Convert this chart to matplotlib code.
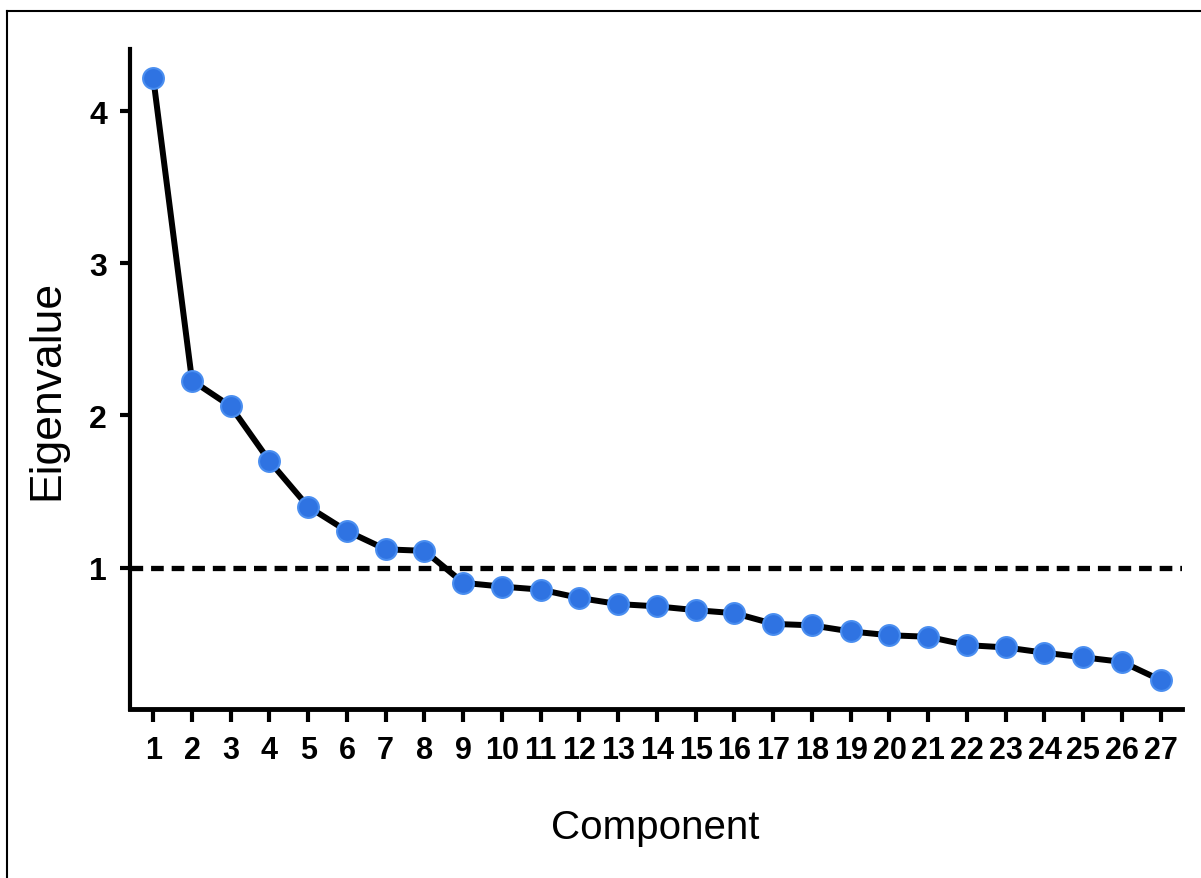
import matplotlib
matplotlib.use('Agg')
import matplotlib.pyplot as plt
from matplotlib.lines import Line2D

components = list(range(1, 28))
eigenvalues = [4.22, 2.23, 2.06, 1.70, 1.40, 1.24, 1.12, 1.11, 0.90, 0.875,
               0.855, 0.80, 0.76, 0.745, 0.72, 0.70, 0.63, 0.62, 0.58, 0.555,
               0.545, 0.49, 0.475, 0.44, 0.41, 0.38, 0.26]
y_ticks = [1, 2, 3, 4]
kaiser = 1

plt.rcParams['font.family'] = ['Liberation Sans', 'DejaVu Sans']
narrow = ['Liberation Sans Narrow', 'DejaVu Sans Condensed', 'Liberation Sans']

fig = plt.figure(figsize=(12.01, 8.79), dpi=100)
ax = fig.add_axes([130 / 1201, 1 - 710 / 879, 1052 / 1201, 660 / 879])

# frame of the picture: only left and top edges are visible
fig.add_artist(Line2D([7 / 1201, 7 / 1201], [0, 1 - 12 / 879],
                      transform=fig.transFigure, color='black', lw=1.5))
fig.add_artist(Line2D([7 / 1201, 1], [1 - 12 / 879, 1 - 12 / 879],
                      transform=fig.transFigure, color='black', lw=1.5))

ax.axhline(kaiser, color='black', lw=3.8, dashes=(2.4, 1.5), zorder=1)
ax.plot(components, eigenvalues, color='black', lw=4.3, zorder=2)
ax.plot(components, eigenvalues, 'o', ms=15, color='#2f73e2',
        mec='#4a8ef0', mew=1.5, zorder=3)

ax.set_xlim(0.4, 27.55)
ax.set_ylim(0.07, 4.41)
ax.set_xticks(components)
ax.set_xticklabels([str(c) for c in components], family=narrow,
                   fontweight='bold', fontstretch='condensed', fontsize=22)
ax.set_yticks(y_ticks)
ax.set_yticklabels([str(t) for t in y_ticks], fontweight='bold', fontsize=23)

for side in ['top', 'right']:
    ax.spines[side].set_visible(False)
ax.spines['left'].set_linewidth(3)
ax.spines['bottom'].set_linewidth(3.5)
ax.tick_params(axis='x', length=9, width=3, pad=10)
ax.tick_params(axis='y', length=7.5, width=3, pad=9)

ax.set_xlabel('Component', fontsize=29)
ax.set_ylabel('Eigenvalue', fontsize=32)
ax.xaxis.set_label_coords(0.499, -0.15)
ax.yaxis.set_label_coords(-0.06, 0.485)

fig.savefig('out.png', dpi=100)
